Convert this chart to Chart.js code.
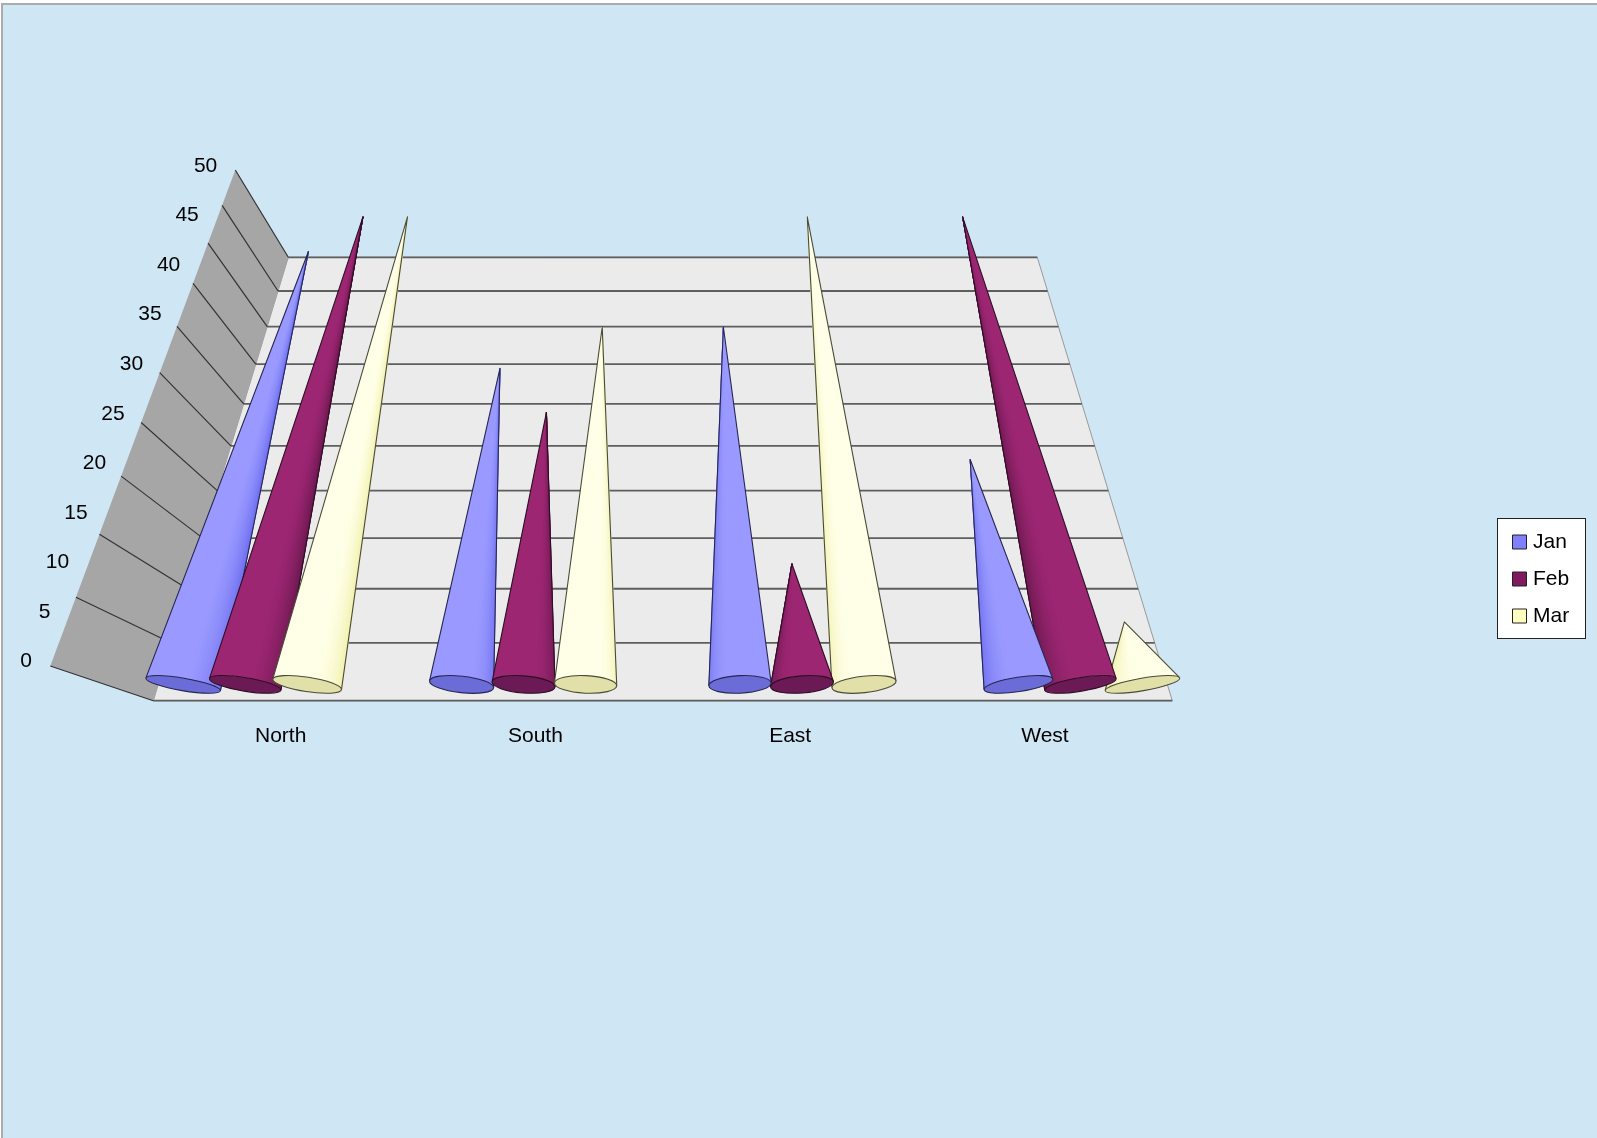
<!DOCTYPE html>
<html>
<head>
<meta charset="utf-8">
<title>Regional sales cones</title>
<script src="https://cdn.jsdelivr.net/npm/chart.js@4/dist/chart.umd.js"></script>
<style>
  html, body { margin: 0; padding: 0; background: #fff; }
  canvas { display: block; }
</style>
</head>
<body>
<canvas id="chart" width="1597" height="1138"></canvas>
<script>
// ── Data ─────────────────────────────────────────────────
const regions = ['North', 'South', 'East', 'West'];
const janValues = [45, 30, 35, 20];
const febValues = [50, 25, 10, 50];
const marValues = [50, 35, 50, 5];
const seriesNames = ['Jan', 'Feb', 'Mar'];

// ── Colours per series ───────────────────────────────────
const swatchColors = ['#8080ff', '#801a60', '#ffffc0'];
const litColors    = [[153, 153, 255], [156, 38, 114], [255, 255, 232]];
const shadeColors  = [[110, 110, 240], [104, 24, 78], [240, 240, 170]];
const baseColors   = ['#6c6cd8', '#6b1a55', '#e0e0a8'];
const outlineColors = ['#26264f', '#2a0f22', '#4a4a38'];

const FONT = { family: '"Liberation Sans", Arial, sans-serif', size: 21 };
const BG = '#cfe6f4';
const BACK_INSET = 135;   // floor narrows by this much on each side
const CONE_SPREAD = 1.093; // cone row sits wider than the floor's front edge

// Horizontal extent of the floor at a given pixel height
function floorEdges(chart, y) {
  const { left, right, top, bottom } = chart.chartArea;
  const f = (bottom - y) / (bottom - top);
  return { left: left + BACK_INSET * f, right: right - BACK_INSET * f };
}

// ── Linear axis seen in perspective ──────────────────────
class PerspectiveScale extends Chart.LinearScale {
  static id = 'perspective';
  static defaults = Chart.LinearScale.defaults;

  getPixelForValue(value) {
    const { near, far, curve } = this.options;
    const t = (value - this.min) / (this.max - this.min);
    return (near + (far * (1 + curve) - near) * t) / (1 + curve * t);
  }
}

// ── Cone mark ────────────────────────────────────────────
function mix(a, b, g) {
  const c = a.map((v, i) => Math.round(v + (b[i] - v) * g));
  return `rgb(${c[0]},${c[1]},${c[2]})`;
}

function smooth(a, b, v) {
  const t = Math.min(1, Math.max(0, (v - a) / (b - a)));
  return t * t * (3 - 2 * t);
}

class ConeElement extends Chart.BarElement {
  static id = 'cone';

  geometry() {
    const chart = this.coneChart;
    const mid = (chart.chartArea.left + chart.chartArea.right) / 2;
    const off = (this.x - mid) * CONE_SPREAD;
    const spread = off / 480;
    const cx = mid + off;
    const cy = this.base;
    const rx = this.width * CONE_SPREAD / 2 * (1 + 0.22 * spread * spread);
    const rot = -10.5 * Math.PI / 180 * Math.tanh(off / 300);

    // tilted bases keep the same overall height, so they get thinner
    const cos = Math.cos(rot), sin = Math.sin(rot);
    const ry = Math.sqrt(Math.max(16, 8.9 * 8.9 - rx * sin * rx * sin)) / cos;

    // tip slides toward the vanishing point as it rises
    const baseEdge = floorEdges(chart, cy);
    const tipEdge = floorEdges(chart, this.y);
    const tipX = mid + off * (tipEdge.right - tipEdge.left) / (baseEdge.right - baseEdge.left);
    const tipY = this.y;

    // tangent angles from the tip onto the rotated base ellipse
    const dx = tipX - cx, dy = tipY - cy;
    const lx = (dx * cos + dy * sin) / rx;
    const ly = (-dx * sin + dy * cos) / ry;
    const phi = Math.atan2(ly, lx);
    const spanA = Math.acos(1 / Math.hypot(lx, ly));
    const point = a => {
      const ex = rx * Math.cos(a), ey = ry * Math.sin(a);
      return [cx + ex * cos - ey * sin, cy + ex * sin + ey * cos];
    };
    return { off, cx, cy, rx, ry, rot, tipX, tipY, phi, spanA, point };
  }

  drawSurface(ctx) {
    const g = this.geometry();
    const { lit, shade, outline } = this.palette;
    const facets = 28;
    const weight = Math.abs(g.off) / 480;
    const band = 0.35 + 0.15 * weight;
    const strength = Math.min(1, 0.6 + 0.4 * weight);
    const arc = i => g.point(g.phi - g.spanA + 2 * g.spanA * i / facets);

    ctx.save();

    // solid silhouette first so the facet seams never let the floor through
    ctx.beginPath();
    ctx.moveTo(g.tipX, g.tipY);
    for (let i = 0; i <= facets; i++) {
      const p = arc(i);
      ctx.lineTo(p[0], p[1]);
    }
    ctx.closePath();
    ctx.fillStyle = mix(lit, lit, 0);
    ctx.fill();

    ctx.lineWidth = 0.8;
    ctx.lineJoin = 'round';
    for (let i = 0; i < facets; i++) {
      const s = (i + 0.5) / facets;
      const side = g.off < 0 ? s : 1 - s;
      const amount = smooth(1 - band, 1, side) * strength;
      if (amount < 0.01) continue;
      const col = mix(lit, shade, amount);
      const a = arc(i), b = arc(i + 1);
      ctx.beginPath();
      ctx.moveTo(g.tipX, g.tipY);
      ctx.lineTo(a[0], a[1]);
      ctx.lineTo(b[0], b[1]);
      ctx.closePath();
      ctx.fillStyle = col;
      ctx.strokeStyle = col;
      ctx.fill();
      ctx.stroke();
    }

    const l = arc(0), r = arc(facets);
    ctx.beginPath();
    ctx.moveTo(l[0], l[1]);
    ctx.lineTo(g.tipX, g.tipY);
    ctx.lineTo(r[0], r[1]);
    ctx.strokeStyle = outline;
    ctx.lineWidth = 1.1;
    ctx.stroke();
    ctx.restore();
  }

  drawBase(ctx) {
    const g = this.geometry();
    ctx.save();
    ctx.beginPath();
    ctx.ellipse(g.cx, g.cy, g.rx, g.ry, g.rot, 0, Math.PI * 2);
    ctx.fillStyle = this.palette.base;
    ctx.fill();
    ctx.strokeStyle = this.palette.outline;
    ctx.lineWidth = 1.1;
    ctx.stroke();
    ctx.restore();
  }

  draw(ctx) {
    this.drawSurface(ctx);
    this.drawBase(ctx);
  }
}

class ConeController extends Chart.BarController {
  static id = 'cone';
  static defaults = Object.assign({}, Chart.BarController.defaults, { dataElementType: 'cone' });
  static overrides = Chart.BarController.overrides;

  updateElements(bars, start, count, mode) {
    super.updateElements(bars, start, count, mode);
    const i = this.index;
    for (let n = start; n < start + count; n++) {
      bars[n].coneChart = this.chart;
      bars[n].palette = { lit: litColors[i], shade: shadeColors[i], base: baseColors[i], outline: outlineColors[i] };
    }
  }

  // marks are painted together by conePainter so they can overlap by depth
  draw() {}
}

Chart.register(PerspectiveScale, ConeElement, ConeController);

// ── Backdrop, floor and side wall ────────────────────────
const scenePlugin = {
  id: 'scene',

  afterLayout(chart) {
    // legend sits in its own framed box right of the plot
    const lg = chart.legend;
    lg.left = 1500.5; lg.right = 1590;
    lg.top = 515.5; lg.bottom = 680;
  },

  beforeDraw(chart) {
    const { ctx, width, height } = chart;
    ctx.save();
    ctx.fillStyle = '#fff';
    ctx.fillRect(0, 0, width, height);
    ctx.fillStyle = '#ababab';
    ctx.fillRect(1, 3, width - 1, height - 3);
    ctx.fillStyle = BG;
    ctx.fillRect(3, 5, width - 3, height - 5);

    ctx.fillStyle = '#fff';
    ctx.strokeStyle = '#222';
    ctx.lineWidth = 1;
    ctx.fillRect(1497.5, 518.5, 88, 120);
    ctx.strokeRect(1497.5, 518.5, 88, 120);
    ctx.restore();
  },

  beforeDatasetsDraw(chart) {
    const { ctx, chartArea } = chart;
    const floor = chart.scales.yFloor;
    const wall = chart.scales.yWall;
    const { top, bottom, left, right } = chartArea;
    const wallX = y => {
      const { nearX, farX, near, far } = wall.options;
      return nearX + (farX - nearX) * (near - y) / (near - far);
    };

    ctx.save();

    // floor
    const back = floorEdges(chart, top);
    ctx.beginPath();
    ctx.moveTo(left, bottom);
    ctx.lineTo(right, bottom);
    ctx.lineTo(back.right, top);
    ctx.lineTo(back.left, top);
    ctx.closePath();
    ctx.fillStyle = '#ebebeb';
    ctx.fill();
    ctx.strokeStyle = '#9a9a9a';
    ctx.lineWidth = 1;
    ctx.stroke();

    // wall
    const wallNear = wall.getPixelForValue(wall.min);
    const wallFar = wall.getPixelForValue(wall.max);
    ctx.beginPath();
    ctx.moveTo(wallX(wallNear), wallNear);
    ctx.lineTo(left, bottom);
    ctx.lineTo(back.left, top);
    ctx.lineTo(wallX(wallFar), wallFar);
    ctx.closePath();
    ctx.fillStyle = '#a6a6a6';
    ctx.fill();

    // grid on both planes, one line per tick
    wall.ticks.forEach(tick => {
      const fy = floor.getPixelForValue(tick.value);
      const edge = floorEdges(chart, fy);
      ctx.beginPath();
      ctx.moveTo(edge.left, fy);
      ctx.lineTo(edge.right, fy);
      ctx.strokeStyle = '#5e5e5e';
      ctx.lineWidth = 1.8;
      ctx.stroke();

      const wy = wall.getPixelForValue(tick.value);
      ctx.beginPath();
      ctx.moveTo(wallX(wy), wy);
      ctx.lineTo(edge.left, fy);
      ctx.strokeStyle = '#333';
      ctx.lineWidth = 1.2;
      ctx.stroke();
    });

    // value labels climb the wall in even steps
    const { labelNear, labelFar } = wall.options;
    ctx.font = `${FONT.size}px ${FONT.family}`;
    ctx.fillStyle = '#000';
    ctx.textAlign = 'right';
    ctx.textBaseline = 'middle';
    wall.ticks.forEach(tick => {
      const t = (tick.value - wall.min) / (wall.max - wall.min);
      ctx.fillText(tick.label,
        labelNear[0] + (labelFar[0] - labelNear[0]) * t,
        labelNear[1] + (labelFar[1] - labelNear[1]) * t);
    });

    ctx.restore();
  },
};

// Surfaces paint from the outside in, so cones nearer the middle stay in front;
// the bases then go on top in series order
const conePainter = {
  id: 'conePainter',
  afterDatasetsDraw(chart) {
    const { ctx, chartArea } = chart;
    const mid = (chartArea.left + chartArea.right) / 2;
    const marks = [];
    chart.getSortedVisibleDatasetMetas().forEach(meta => {
      meta.data.forEach(el => marks.push(el));
    });
    marks.slice()
      .sort((a, b) => Math.abs(b.x - mid) - Math.abs(a.x - mid))
      .forEach(el => el.drawSurface(ctx));
    marks.forEach(el => el.drawBase(ctx));
  },
};

// ── Chart ────────────────────────────────────────────────
const seriesValues = [janValues, febValues, marValues];

new Chart(document.getElementById('chart'), {
  type: 'cone',
  data: {
    labels: regions,
    datasets: seriesNames.map((name, i) => ({
      label: name,
      data: seriesValues[i],
      backgroundColor: swatchColors[i],
      borderColor: '#222',
      borderWidth: 1,
      clip: false,
      categoryPercentage: 0.668,
      barPercentage: 1,
      yAxisID: 'y',
    })),
  },
  plugins: [scenePlugin, conePainter],
  options: {
    responsive: false,
    animation: false,
    events: [],
    layout: {
      autoPadding: false,
      padding: { left: 153.3, right: 424.7, top: 257.3, bottom: 377.3 },
    },
    plugins: {
      title: { display: false },
      tooltip: { enabled: false },
      legend: {
        position: 'chartArea',
        align: 'start',
        labels: {
          usePointStyle: true,
          pointStyle: 'rect',
          boxWidth: 6,
          boxHeight: 14,
          padding: 16,
          color: '#000',
          font: FONT,
        },
      },
    },
    scales: {
      x: {
        type: 'category',
        offset: true,
        grid: { display: false, offset: true },
        border: { display: false },
        afterFit: scale => { scale.height = 60; },
        ticks: { color: '#000', font: FONT, padding: 15, maxRotation: 0 },
      },
      // cone row
      y: {
        type: 'perspective', axis: 'y', display: false, min: 0, max: 50,
        near: 684.4, far: 216.9, curve: 0.3906,
        ticks: { stepSize: 5 },
      },
      // floor plane
      yFloor: {
        type: 'perspective', axis: 'y', display: false, min: 0, max: 50,
        near: 700.7, far: 257.3, curve: 0.351,
        ticks: { stepSize: 5 },
      },
      // outer edge of the side wall
      yWall: {
        type: 'perspective', axis: 'y', display: false, min: 0, max: 50,
        near: 666, far: 170, curve: 0.447,
        nearX: 50.3, farX: 235.3,
        labelNear: [32, 661.5], labelFar: [217.3, 166],
        ticks: { stepSize: 5 },
      },
    },
  },
});
</script>
</body>
</html>
